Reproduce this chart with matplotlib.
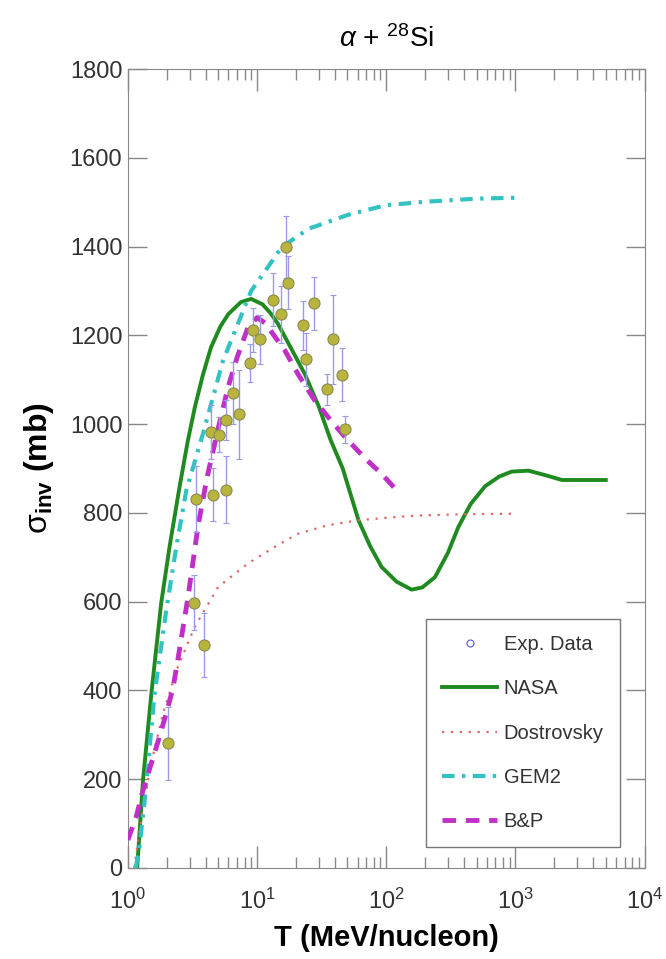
"""alpha + 28Si inverse cross section: data vs NASA / Dostrovsky / GEM2 / B&P."""

import matplotlib

matplotlib.use("Agg")
import matplotlib.pyplot as plt  # noqa: E402
from matplotlib.lines import Line2D  # noqa: E402

plt.rcParams["font.family"] = ["Liberation Sans", "DejaVu Sans"]
plt.rcParams["mathtext.fontset"] = "custom"
plt.rcParams["mathtext.rm"] = "Liberation Sans"
plt.rcParams["mathtext.it"] = "Liberation Sans:italic"
plt.rcParams["mathtext.bf"] = "Liberation Sans:bold"

# experimental points (T in MeV/nucleon, sigma in mb, error)
exp_t = [2.06, 3.26, 3.35, 3.89, 4.43, 4.56, 5.07, 5.71, 5.74, 6.50, 7.23, 8.89, 9.27,
         10.5, 13.2, 15.4, 16.8, 17.5, 22.6, 23.8, 27.8, 34.7, 38.9, 45.3, 47.5]
exp_sig = [281, 598, 831, 502, 982, 841, 976, 852, 1009, 1070, 1022, 1138, 1212,
           1191, 1280, 1247, 1400, 1319, 1223, 1146, 1272, 1078, 1191, 1111, 988]
exp_err = [82, 62, 75, 72, 60, 60, 40, 75, 45, 70, 100, 43, 50,
           55, 60, 65, 70, 60, 55, 60, 60, 35, 100, 60, 30]

nasa_t = [1.18, 1.31, 1.52, 1.81, 2.10, 2.5, 2.9, 3.3, 3.8, 4.4, 5.2, 6.0, 7.5, 9.0, 11,
          12.7, 14.5, 18, 23.4, 30, 37, 46, 61, 75, 92, 120, 157, 190, 238, 300, 361,
          450, 582, 750, 936, 1260, 1700, 2290, 3000, 5000]
nasa_sig = [0, 198, 393, 596, 723, 855, 960, 1038, 1110, 1173, 1220, 1248, 1275, 1282, 1270,
            1250, 1226, 1175, 1113, 1040, 965, 900, 783, 725, 678, 645, 627, 632, 655, 710,
            768, 820, 860, 882, 893, 895, 885, 874, 874, 874]

dost_t = [1.12, 1.3, 1.5, 1.87, 2.44, 3.29, 5.0, 8.5, 14, 20.8, 35, 60, 100, 177, 400, 936]
dost_sig = [0, 130, 230, 348, 453, 543, 633, 686, 725, 753, 772, 783, 789, 794, 797, 798]

gem_t = [1.15, 1.23, 1.35, 1.61, 1.98, 2.37, 2.83, 3.81, 5.45, 9.0, 13.7, 15.4, 25, 50,
         98, 200, 300, 500, 1000]
gem_sig = [0, 48, 153, 393, 580, 723, 850, 978, 1143, 1300, 1376, 1398, 1440, 1471,
           1493, 1501, 1504, 1508, 1510]

bp_t = [1.0, 1.16, 1.31, 1.52, 1.71, 1.98, 2.23, 2.44, 2.92, 3.49, 4.1, 5.0, 5.96, 7.0,
        8.5, 10.0, 11.5, 13.5, 16.4, 21, 28, 38, 50.7, 70, 92, 120]
bp_sig = [63, 115, 175, 236, 284, 348, 404, 470, 610, 770, 880, 990, 1083, 1150,
          1218, 1240, 1228, 1200, 1166, 1110, 1053, 1005, 963, 920, 888, 851]

fig = plt.figure(figsize=(6.66, 9.59), dpi=100)
ax = fig.add_axes([0.192, 0.095, 0.776, 0.833])

ax.plot(nasa_t, nasa_sig, color="#1f8a1f", lw=2.8, zorder=3)
ax.plot(dost_t, dost_sig, color="#e06666", lw=1.6, ls=(0, (1, 3)), zorder=3)
ax.plot(gem_t, gem_sig, color="#33c2c2", lw=3.0, ls=(0, (3, 1.8, 0.8, 1.8)), zorder=3)
ax.plot(bp_t, bp_sig, color="#c030c8", lw=3.5, ls=(0, (2.8, 2)), zorder=3)
ax.errorbar(exp_t, exp_sig, yerr=exp_err, fmt="o", ms=8, mfc="#b8b43c", mec="#8c8a55",
            mew=0.8, ecolor="#9a9ae6", elinewidth=1.0, capsize=2.5, zorder=5)

ax.set_xscale("log")
ax.set_xlim(1, 1e4)
ax.set_ylim(0, 1800)
ax.set_yticks(range(0, 1801, 200))

for s in ax.spines.values():
    s.set_color("#888888")
ax.tick_params(axis="both", which="both", direction="in", top=True, right=True,
               colors="#888888", labelcolor="#333333", labelsize=17, width=1)
ax.tick_params(axis="x", which="major", length=16, pad=15)
ax.tick_params(axis="x", which="minor", length=8)
ax.tick_params(axis="y", which="major", length=13.5, pad=4)

ax.set_title(r"$\alpha$ + $^{28}$Si", fontsize=20, pad=16)
ax.set_xlabel("T (MeV/nucleon)", fontsize=21, fontweight="bold", labelpad=7)
ax.set_ylabel(r"$\mathrm{\sigma}_{\mathbf{inv}}$ (mb)", fontsize=23, fontweight="bold",
              labelpad=10)

handles = [
    Line2D([], [], ls="none", marker="o", ms=5, mfc="none", mec="#6666dd", mew=0.9),
    Line2D([], [], color="#1f8a1f", lw=2.8),
    Line2D([], [], color="#e06666", lw=1.6, ls=(0, (1, 3))),
    Line2D([], [], color="#33c2c2", lw=3.0, ls=(0, (3, 1.8, 0.8, 1.8))),
    Line2D([], [], color="#c030c8", lw=3.5, ls=(0, (2.8, 2))),
]
labels = ["Exp. Data", "NASA", "Dostrovsky", "GEM2", "B&P"]
leg = ax.legend(handles, labels, loc="lower right", bbox_to_anchor=(0.952, 0.026),
                borderaxespad=0, fontsize=14.5, handlelength=2.7, handletextpad=0.35,
                labelspacing=1.25, borderpad=0.8, fancybox=False, framealpha=1,
                edgecolor="#777777")
leg.get_frame().set_linewidth(1)
for t in leg.get_texts():
    t.set_color("#333333")

fig.savefig("out.png", dpi=100)
